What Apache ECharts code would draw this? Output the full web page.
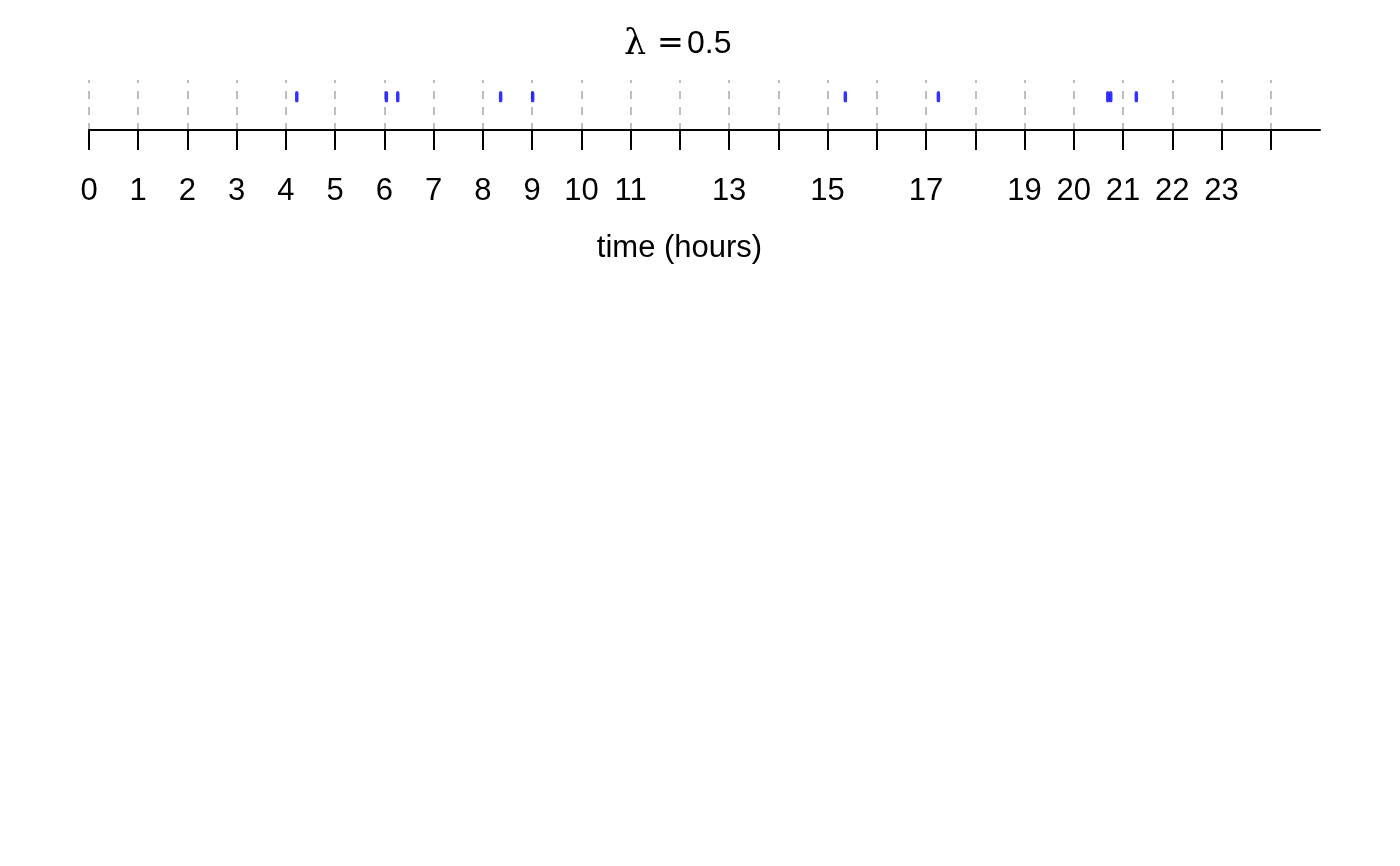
<!DOCTYPE html>
<html>
<head>
<meta charset="utf-8">
<script src="https://cdn.jsdelivr.net/npm/echarts@6/dist/echarts.min.js"></script>
<style>
html,body{margin:0;padding:0;background:#fff;}
#chart{width:1400px;height:866px;}
</style>
</head>
<body>
<div id="chart"></div>
<script>
// Data
const eventTimes = [4.22, 6.04, 6.27, 8.36, 9.01, 15.36, 17.25, 20.69, 20.75, 21.27];
const eventLevel = 1;
const tickValues = [0,1,2,3,4,5,6,7,8,9,10,11,12,13,14,15,16,17,18,19,20,21,22,23,24];
const labelValues = [0,1,2,3,4,5,6,7,8,9,10,11,13,15,17,19,20,21,22,23];
const axisMin = 0, axisMax = 25;
const titleRate = '0.5';
const axisTitle = 'time (hours)';

const chart = echarts.init(document.getElementById('chart'), null, {renderer: 'canvas'});
const FONT = '"Liberation Sans", Arial, sans-serif';

chart.setOption({
  backgroundColor: '#ffffff',
  animation: false,
  title: {
    text: '{l|λ}{e|=}{n|' + titleRate + '}',
    left: 619,
    top: 22,
    textAlign: 'left',
    textStyle: {
      fontWeight: 'normal',
      rich: {
        l: {fontFamily: '"DejaVu Serif", "Liberation Serif", serif', fontSize: 35, fontWeight: 'normal', color: '#000', width: 33},
        e: {fontFamily: '"DejaVu Sans", sans-serif', fontSize: 32, fontWeight: 'normal', color: '#000', width: 30},
        n: {fontFamily: FONT, fontSize: 32, fontWeight: 'normal', color: '#000'}
      }
    }
  },
  grid: {left: 89, right: 80, top: 80, height: 50, containLabel: false},
  xAxis: {
    type: 'value',
    min: axisMin,
    max: axisMax,
    interval: 1,
    name: axisTitle,
    nameLocation: 'middle',
    nameGap: 103,
    nameTextStyle: {fontFamily: FONT, fontSize: 31, color: '#000', padding: [0, 50, 0, 0]},
    axisLine: {show: true, onZero: false, lineStyle: {color: '#000', width: 2}},
    axisTick: {show: true, length: 20, inside: false, customValues: tickValues, lineStyle: {color: '#000', width: 2}},
    axisLabel: {show: true, margin: 46, customValues: labelValues, fontFamily: FONT, fontSize: 31, color: '#000', lineHeight: 31},
    splitLine: {show: true, showMinLine: true, showMaxLine: true, lineStyle: {color: '#bebebe', width: 2, type: [8, 8], dashOffset: 5}}
  },
  yAxis: {
    type: 'value',
    min: 0,
    max: 1.5,
    show: false,
    splitLine: {show: false}
  },
  series: [{
    type: 'scatter',
    data: eventTimes.map(t => [t, eventLevel]),
    symbol: 'roundRect',
    symbolSize: [3.5, 11],
    itemStyle: {color: '#0000ff'},
    silent: true
  }]
});
</script>
</body>
</html>
